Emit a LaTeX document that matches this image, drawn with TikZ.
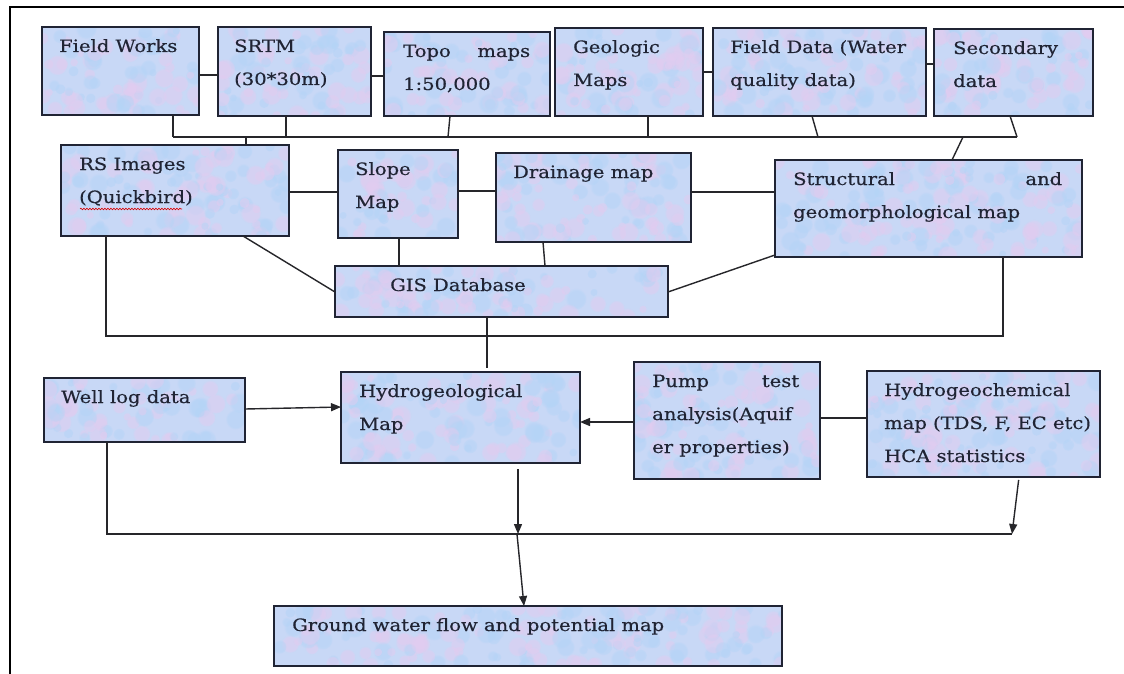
\documentclass[tikz,border=0pt]{standalone}
\usepackage{fontspec}
\setmainfont[FakeStretch=1.15, FakeBold=0.4]{DejaVu Serif}
\usetikzlibrary{arrows.meta,calc,fadings,decorations.pathmorphing}

\definecolor{boxblue}{RGB}{200,216,246}
\definecolor{blobpink}{RGB}{226,204,240}
\definecolor{blobblue}{RGB}{180,212,246}
\definecolor{ink}{RGB}{32,36,52}
\definecolor{wire}{RGB}{38,38,42}

\newcommand\bfont{\fontsize{17}{33}\selectfont}

% a box placed by its top-left corner, width and height (in px)
\newcommand\flowbox[5]{%
  \node[fbox, minimum width=#4pt, minimum height=#5pt] (#1) at (#2,#3) {};}
% text of a box: first baseline 25px below the top edge, #2 px from the left edge
\newcommand\boxtext[4]{%
  \node[btext] (#1-t) at ($(#1.north west)+(#2,25)$) {\parbox[t]{#3pt}{\raggedright #4}};}
\newcommand\spread[1]{\makebox[\linewidth][s]{#1}}

\tikzset{
  mottled/.style={path picture={
    \pgfpointdiff{\pgfpointanchor{path picture bounding box}{south west}}%
                 {\pgfpointanchor{path picture bounding box}{north east}}%
    \pgfgetlastxy{\bw}{\bh}%
    \pgfpointanchor{path picture bounding box}{south west}%
    \pgfgetlastxy{\bx}{\by}%
    \pgfmathtruncatemacro\nb{\bw/14*\bh/12}%
    \foreach \k in {1,...,\nb}{%
      \pgfmathsetmacro\rx{rnd}%
      \pgfmathsetmacro\ry{rnd}%
      \pgfmathsetmacro\rr{4+7*rnd}%
      \pgfmathsetmacro\rc{rnd}%
      \ifdim\rc pt<0.5pt \def\bc{blobpink}\else\def\bc{blobblue}\fi
      \fill[\bc, path fading=circle with fuzzy edge 20 percent, fill opacity=0.5]
        (\bx+\rx*\bw, \by+\ry*\bh) circle (\rr pt);
    }}},
  fbox/.style={draw=ink, line width=1.5pt, fill=boxblue, inner sep=0pt,
    outer sep=0pt, anchor=north west, mottled},
  btext/.style={anchor=base west, inner sep=0pt, text=ink, font=\bfont},
  wire/.style={draw=wire, line width=1.4pt},
  arr/.style={wire, -{Triangle[length=10pt,width=8pt]}},
}

\begin{document}
\begin{tikzpicture}[x=1pt, y=-1pt]
\pgfmathsetseed{11}
\useasboundingbox (0,0) rectangle (1124,674);
\fill[white] (0,0) rectangle (1124,674);

% frame (top and left edges)
\draw[line width=2.6pt, draw=black] (10,674) -- (10,7) -- (1124,7);

% ---- first row: data sources
\flowbox{fw}{42}{27}{157}{88}
\flowbox{srtm}{218}{27}{153}{89}
\flowbox{topo}{384}{32}{166}{84}
\flowbox{geo}{555}{28}{148}{88}
\flowbox{fd}{713}{28}{213}{88}
\flowbox{sec}{934}{29}{159}{87}

% ---- second row: derived maps
\flowbox{rs}{61}{145}{228}{91}
\flowbox{slope}{338}{150}{120}{88}
\flowbox{drain}{496}{153}{195}{89}
\flowbox{struct}{775}{160}{307}{97}
\flowbox{gis}{335}{266}{333}{51}

% ---- third row
\flowbox{well}{44}{378}{201}{64}
\flowbox{hydro}{341}{372}{239}{91}
\flowbox{pump}{634}{362}{186}{117}
\flowbox{hchem}{867}{371}{233}{106}
\flowbox{ground}{274}{606}{508}{60}

% ---- texts
\boxtext{fw}{17}{300}{Field Works}
\boxtext{srtm}{16}{300}{SRTM\\(30*30m)}
\boxtext{topo}{19}{127}{\spread{Topo maps}\\1:50,000}
\boxtext{geo}{18}{300}{Geologic\\Maps}
\boxtext{fd}{17}{300}{Field Data (Water\\quality data)}
\boxtext{sec}{19}{300}{Secondary\\data}
\boxtext{rs}{18}{300}{RS Images\\(Quickbird)}
\boxtext{slope}{17}{300}{Slope\\Map}
\boxtext{drain}{17}{300}{Drainage map}
\boxtext{struct}{18}{269}{\spread{Structural and}\\geomorphological map}
\boxtext{gis}{55}{300}{GIS Database}
\boxtext{well}{17}{300}{Well log data}
\boxtext{hydro}{18}{300}{Hydrogeological\\Map}
\boxtext{pump}{18}{147}{\spread{Pump test}\\analysis(Aquif\\er properties)}
\boxtext{hchem}{17}{300}{Hydrogeochemical\\map (TDS, F, EC etc)\\HCA statistics}
\boxtext{ground}{18}{480}{Ground water flow and potential map}

% spell-check squiggle under Quickbird
\draw[red!85!black, line width=0.6pt, decorate,
  decoration={snake, amplitude=0.8pt, segment length=3pt}] (80,209) -- (182,209);

% ---- first-row links and collector bus
\draw[wire] (fw.east |- 0,75) -- (srtm.west |- 0,75);
\draw[wire] (srtm.east |- 0,76) -- (topo.west |- 0,76);
\draw[wire] (geo.east |- 0,72) -- (fd.west |- 0,72);
\draw[wire] (fd.east |- 0,64) -- (sec.west |- 0,64);

\coordinate (tb-l) at (173,137);
\coordinate (tb-r) at (1017,137);
\draw[wire] (tb-l) -- (tb-r);
\draw[wire] (fw.south -| tb-l) -- (tb-l);
\draw[wire] (srtm.south -| 286,0) -- (286,137);
\draw[wire] (topo.south -| 450,0) -- (448,137);
\draw[wire] (geo.south -| 648,0) -- (648,137);
\draw[wire] (fd.south -| 812,0) -- (818,137);
\draw[wire] (sec.south -| 1010,0) -- (tb-r);
\draw[wire] (246,137) -- (rs.north -| 246,0);
\draw[wire] (963,137) -- (struct.north -| 952,0);

% ---- second-row links
\draw[wire] (rs.east |- 0,192) -- (slope.west |- 0,192);
\draw[wire] (slope.east |- 0,191) -- (drain.west |- 0,191);
\draw[wire] (drain.east |- 0,192) -- (struct.west |- 0,192);
\draw[wire] (slope.south -| 399,0) -- (gis.north -| 399,0);
\draw[wire] (drain.south -| 543,0) -- (gis.north -| 545,0);
\draw[wire] (rs.south -| 243,0) -- (gis.west |- 0,292);
\draw[wire] (gis.east |- 0,292) -- (struct.west |- 0,255);

\coordinate (mb-l) at (106,336);
\coordinate (mb-r) at (1003,336);
\draw[wire] (rs.south -| mb-l) -- (mb-l) -- (mb-r) -- (struct.south -| mb-r);
\draw[wire, shorten >=4pt] (gis.south -| 487,0) -- (hydro.north -| 487,0);

% ---- third-row links
\draw[arr] (well.east |- 0,409) -- (hydro.west |- 0,407);
\draw[arr] (pump.west |- 0,422) -- (hydro.east |- 0,422);
\draw[wire] (pump.east |- 0,418) -- (hchem.west |- 0,418);

\coordinate (bb-l) at (107,534);
\coordinate (bb-r) at (1012,534);
\coordinate (bb-h) at (518,534);
\coordinate (bb-m) at (517,534);
\draw[wire] (well.south -| bb-l) -- (bb-l) -- (bb-r);
\draw[arr, shorten <=6pt] (hydro.south -| bb-h) -- (bb-h);
\draw[arr, shorten <=3pt] (hchem.south -| 1019,0) -- (bb-r);
\draw[arr] (bb-m) -- (ground.north -| 524,0);
\end{tikzpicture}
\end{document}
